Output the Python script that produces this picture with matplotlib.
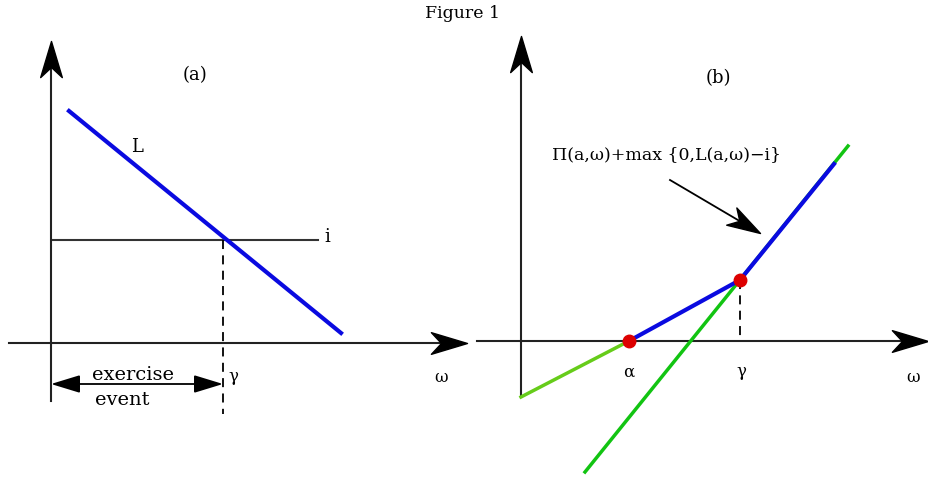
import numpy as np
import matplotlib
matplotlib.use('Agg')
import matplotlib.pyplot as plt
from matplotlib.path import Path
from matplotlib.markers import MarkerStyle
from matplotlib.transforms import Affine2D

plt.rcParams['font.family'] = ['DejaVu Serif']

### ~~~~~~~~~~~~~~~~~~~~~~~~~~~~~~~~~~~~~~~ ###
# diagram data (units: origin at axis crossing)
# panel (a)
a_L_x = [1.8, 29.0]
a_L_y = [23.2, 1.0]
a_i_level = 10.3
a_i_x = [0.2, 26.7]
a_gamma = 17.2
a_event_y = -4.1

# panel (b)
b_low_x = [0.0, 10.8]          # green, below alpha
b_low_y = [-5.6, 0.0]
b_mid_x = [10.8, 21.9]         # blue, alpha -> gamma
b_mid_y = [0.0, 6.1]
b_steep_x = [6.4, 32.7]        # green, steep line
b_steep_y = [-13.1, 19.5]
b_top_x = [21.9, 31.3]         # blue, on steep line
b_top_y = [6.1, 17.7]
b_dots_x = [10.8, 21.9]
b_dots_y = [0.0, 6.1]
b_formula = 'Π(a,ω)+max {0,L(a,ω)−i}'

BLUE = '#0a0ae0'
GREEN = '#12c412'
LGREEN = '#66cc1a'

# stealth arrow head marker, tip at origin
head_path = Path([(0, 0), (-1, 0.3), (-0.72, 0), (-1, -0.3), (0, 0)],
                 [Path.MOVETO, Path.LINETO, Path.LINETO, Path.LINETO, Path.CLOSEPOLY])

def head(ax, x, y, angle, size):
    m = MarkerStyle(head_path, transform=Affine2D().rotate_deg(angle))
    ax.plot([x], [y], marker=m, markersize=size, color='black', mec='black', zorder=5)

def axis_lines(ax, x0, x1, y0, y1):
    ax.plot([x0, x1 - 1.5], [0, 0], color='#222222', lw=1.5)
    ax.plot([0, 0], [y0, y1 - 1.5], color='#222222', lw=1.5)
    head(ax, x1, 0, 0, 52)
    head(ax, 0, y1, 90, 52)

fig = plt.figure(figsize=(9.29, 4.81), dpi=100)
axa = fig.add_axes([0, 0, 470 / 929, 1])
axb = fig.add_axes([470 / 929, 0, 459 / 929, 1])
axa.set_xlim(-5.1, 41.9)
axa.set_ylim(-13.7, 34.4)
axb.set_xlim(-5.1, 40.8)
axb.set_ylim(-13.9, 34.2)
for ax in (axa, axb):
    ax.axis('off')

fig.text(463 / 929, 1 - 13 / 481, 'Figure 1', ha='center', va='center', fontsize=12.5)

dash = (0, (5, 3.5))

### ~~~~~~~~~~~~~~~~~~~~~~~~~~~~~~~~~~~~~~~ ###
# panel (a)
axis_lines(axa, -4.2, 41.6, -5.8, 30.2)
axa.plot(a_i_x, [a_i_level, a_i_level], color='#333333', lw=1.5)
axa.plot(a_L_x, a_L_y, color=BLUE, lw=3)
axa.plot([a_gamma, a_gamma], [a_i_level, -7.1], color='black', lw=1.3, ls=dash)
axa.annotate('', xy=(a_gamma, a_event_y), xytext=(0, a_event_y),
             arrowprops=dict(arrowstyle='<|-|>,head_length=1.8,head_width=0.55',
                             color='black', lw=1.3, shrinkA=0, shrinkB=0, mutation_scale=10))
axa.text(14.4, 26.9, '(a)', ha='center', va='center', fontsize=13)
axa.text(8.6, 19.7, 'L', ha='center', va='center', fontsize=13)
axa.text(27.6, 10.7, 'i', ha='center', va='center', fontsize=13)
axa.text(18.2, -3.3, 'γ', ha='center', va='center', fontsize=12)
axa.text(39.0, -3.4, 'ω', ha='center', va='center', fontsize=12)
axa.text(8.2, -3.1, 'exercise', ha='center', va='center', fontsize=14)
axa.text(7.1, -5.6, 'event', ha='center', va='center', fontsize=14)

### ~~~~~~~~~~~~~~~~~~~~~~~~~~~~~~~~~~~~~~~ ###
# panel (b)
axis_lines(axb, -4.4, 40.7, -5.6, 30.5)
axb.plot(b_low_x, b_low_y, color=LGREEN, lw=2.5)
axb.plot(b_steep_x, b_steep_y, color=GREEN, lw=2.5)
axb.plot(b_mid_x, b_mid_y, color=BLUE, lw=3)
axb.plot(b_top_x, b_top_y, color=BLUE, lw=3)
axb.plot([b_dots_x[1], b_dots_x[1]], [b_dots_y[1], 0], color='black', lw=1.3, ls=dash)
axb.plot(b_dots_x, b_dots_y, 'o', color='#dd0000', markersize=9, zorder=6)

tail = (14.9, 16.1)
tip = (23.9, 10.8)
axb.plot([tail[0], tip[0] - 1.5], [tail[1], tip[1] + 0.88], color='black', lw=1.3)
head(axb, tip[0], tip[1], np.degrees(np.arctan2(tip[1] - tail[1], tip[0] - tail[0])), 48)

axb.text(14.6, 18.7, b_formula, ha='center', va='center', fontsize=12.5)
axb.text(19.7, 26.4, '(b)', ha='center', va='center', fontsize=13)
axb.text(10.8, -3.0, 'α', ha='center', va='center', fontsize=12)
axb.text(22.0, -3.0, 'γ', ha='center', va='center', fontsize=12)
axb.text(39.2, -3.6, 'ω', ha='center', va='center', fontsize=12)

fig.savefig('out.png', dpi=100)
